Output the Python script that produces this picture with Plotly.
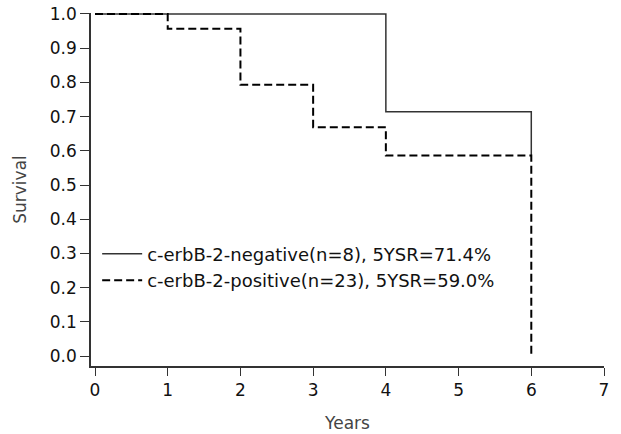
import plotly.graph_objects as go

# Kaplan-Meier step curves
neg_years = [0, 4, 4, 6, 6]
neg_surv = [1.0, 1.0, 0.714, 0.714, 0.586]
neg_label = "c-erbB-2-negative(n=8), 5YSR=71.4%"

pos_years = [0, 1, 1, 2, 2, 3, 3, 4, 4, 6, 6]
pos_surv = [1.0, 1.0, 0.957, 0.957, 0.793, 0.793, 0.669, 0.669, 0.586, 0.586, 0.0]
pos_label = "c-erbB-2-positive(n=23), 5YSR=59.0%"

x_ticks = [0, 1, 2, 3, 4, 5, 6, 7]
y_ticks = [0.0, 0.1, 0.2, 0.3, 0.4, 0.5, 0.6, 0.7, 0.8, 0.9, 1.0]
y_tick_text = [f"{v:.1f}" for v in y_ticks]

FONT = "DejaVu Sans"

fig = go.Figure()
fig.add_trace(go.Scatter(x=neg_years, y=neg_surv, mode="lines", name=neg_label,
                         line=dict(color="#333333", width=1.5), cliponaxis=False))
fig.add_trace(go.Scatter(x=pos_years, y=pos_surv, mode="lines", name=pos_label,
                         line=dict(color="#000000", width=2, dash="8px,4px"), cliponaxis=False))

fig.update_layout(
    width=621, height=434,
    margin=dict(l=91, r=17, t=13, b=68),
    plot_bgcolor="white", paper_bgcolor="white",
    font=dict(family=FONT, size=16, color="#111111"),
    showlegend=True,
    legend=dict(x=0.012, y=0.28, xanchor="left", yanchor="middle",
                bgcolor="rgba(0,0,0,0)", font=dict(family=FONT, size=18, color="#111111"),
                itemwidth=40, tracegroupgap=0),
    xaxis=dict(range=[-0.055, 7.0], tickvals=x_ticks, ticks="outside", ticklen=8,
               tickcolor="#333333", showline=True, linecolor="#333333", linewidth=1.5,
               showgrid=False, zeroline=False, automargin=False,
               title=dict(text="Years", font=dict(family=FONT, size=17, color="#444444"), standoff=18),
               tickfont=dict(family=FONT, size=17, color="#111111")),
    yaxis=dict(range=[-0.0292, 1.0029], tickvals=y_ticks, ticktext=y_tick_text,
               ticks="outside", ticklen=9, tickcolor="#333333", showline=True,
               linecolor="#333333", linewidth=1.5, showgrid=False, zeroline=False,
               automargin=False,
               title=dict(text="Survival", font=dict(family=FONT, size=17, color="#444444"), standoff=19),
               tickfont=dict(family=FONT, size=17, color="#111111")),
)

fig.write_html("out.html", config={"displayModeBar": False},
               post_script="document.body.style.margin='0';document.body.style.overflow='hidden';")
